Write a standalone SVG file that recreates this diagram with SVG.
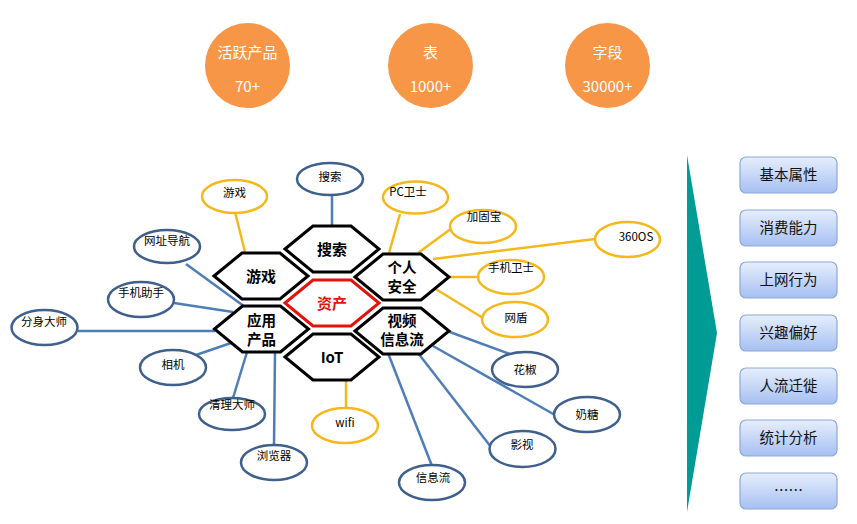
<svg xmlns="http://www.w3.org/2000/svg" width="857" height="524" viewBox="0 0 857 524">
<style>
.t{font-family:"Noto Sans CJK SC","Microsoft YaHei",sans-serif;text-anchor:middle}
.stat{fill:#f79646}
.stxt{fill:#fff;font-size:15px}
.hex{fill:#fff;stroke:#000;stroke-width:3;stroke-linejoin:miter}
.hexc{fill:#fff;stroke:#e3120b;stroke-width:3}
.htxt{font-size:15px;font-weight:bold;fill:#000}
.h2{font-size:14.5px;font-weight:bold;fill:#000}
.ey{fill:#fff;stroke:#f5b81c;stroke-width:2.5}
.eb{fill:#fff;stroke:#3f5f8c;stroke-width:2.5}
.etxt{font-size:11.5px;fill:#000}
.ly{stroke:#f5b81c;stroke-width:2.5;fill:none}
.lb{stroke:#4f7db8;stroke-width:2.5;fill:none}
.box{fill:url(#bg);stroke:#8ea9d6;stroke-width:1.2}
.btxt{font-size:14.5px;fill:#111}
</style>
<defs>
<linearGradient id="bg" x1="0" y1="0" x2="0" y2="1">
<stop offset="0" stop-color="#e6eefd"/>
<stop offset="1" stop-color="#a6c0f2"/>
</linearGradient>
<polygon id="hx" points="-47,0 -19,-23 19,-23 47,0 19,23 -19,23"/>
</defs>
<rect width="857" height="524" fill="#fff"/>

<g id="stat1"><circle class="stat" cx="247.5" cy="65.5" r="42.5"/><text class="t stxt" x="247.5" y="58">活跃产品</text><text class="t stxt" x="247.5" y="92">70+</text></g>
<g id="stat2"><circle class="stat" cx="430.5" cy="65.5" r="42.5"/><text class="t stxt" x="430.5" y="58">表</text><text class="t stxt" x="430.5" y="92">1000+</text></g>
<g id="stat3"><circle class="stat" cx="607.5" cy="65.5" r="42.5"/><text class="t stxt" x="607.5" y="58">字段</text><text class="t stxt" x="607.5" y="92">30000+</text></g>

<g id="connectors">
<line class="ly" x1="235" y1="212" x2="245" y2="252"/>
<line class="ly" x1="400" y1="214" x2="389" y2="253"/>
<line class="ly" x1="452" y1="228" x2="418" y2="253"/>
<line class="ly" x1="595" y1="239" x2="433" y2="259"/>
<line class="ly" x1="448" y1="277" x2="478" y2="277"/>
<line class="ly" x1="434" y1="288" x2="483" y2="318"/>
<line class="ly" x1="346" y1="380" x2="346" y2="408"/>
<line class="lb" x1="332" y1="195" x2="332" y2="226"/>
<line class="lb" x1="186" y1="264" x2="245" y2="307"/>
<line class="lb" x1="174" y1="303" x2="233" y2="312"/>
<line class="lb" x1="78" y1="331" x2="215" y2="331"/>
<line class="lb" x1="196" y1="355" x2="231" y2="343"/>
<line class="lb" x1="233" y1="398" x2="247" y2="352"/>
<line class="lb" x1="274" y1="445" x2="275" y2="352"/>
<line class="lb" x1="447" y1="331" x2="510" y2="354"/>
<line class="lb" x1="433" y1="346" x2="555" y2="415"/>
<line class="lb" x1="418" y1="353" x2="491" y2="447"/>
<line class="lb" x1="388" y1="353" x2="432" y2="466"/>
</g>

<g id="hex-search"><use href="#hx" class="hex" x="332" y="249"/><text class="t htxt" x="332" y="254.5">搜索</text></g>
<g id="hex-game"><use href="#hx" class="hex" x="261" y="276"/><text class="t htxt" x="261" y="281.5">游戏</text></g>
<g id="hex-security"><use href="#hx" class="hex" x="402" y="277"/><text class="t h2" x="402" y="273">个人</text><text class="t h2" x="402" y="292">安全</text></g>
<g id="hex-asset"><use href="#hx" class="hexc" x="332" y="303"/><text class="t htxt" x="332" y="308.5" style="fill:#e3120b">资产</text></g>
<g id="hex-app"><use href="#hx" class="hex" x="261.5" y="329"/><text class="t h2" x="261.5" y="325.5">应用</text><text class="t h2" x="261.5" y="344.5">产品</text></g>
<g id="hex-video"><use href="#hx" class="hex" x="402" y="331"/><text class="t h2" x="402" y="325.5">视频</text><text class="t h2" x="402" y="344.5">信息流</text></g>
<g id="hex-iot"><use href="#hx" class="hex" x="332" y="357"/><text class="t htxt" x="332" y="362.5">IoT</text></g>

<g id="e-game"><ellipse class="ey" cx="234.5" cy="196.5" rx="32.5" ry="16.5"/><text class="t etxt" x="234.5" y="197">游戏</text></g>
<g id="e-pc"><ellipse class="ey" cx="415.5" cy="197.5" rx="32.5" ry="16"/><text class="t etxt" x="408" y="196">PC卫士</text></g>
<g id="e-jgb"><ellipse class="ey" cx="483" cy="226.5" rx="33" ry="16.5"/><text class="t etxt" x="484" y="221">加固宝</text></g>
<g id="e-360os"><ellipse class="ey" cx="627.5" cy="239.5" rx="32.5" ry="17.5"/><text class="t etxt" x="636" y="241">360OS</text></g>
<g id="e-phone"><ellipse class="ey" cx="511" cy="277" rx="33" ry="17"/><text class="t etxt" x="511" y="272">手机卫士</text></g>
<g id="e-wd"><ellipse class="ey" cx="515" cy="319.5" rx="33" ry="17.5"/><text class="t etxt" x="516" y="322">网盾</text></g>
<g id="e-wifi"><ellipse class="ey" cx="345" cy="425.5" rx="33" ry="17.5"/><text class="t etxt" x="345" y="427">wifi</text></g>

<g id="e-search"><ellipse class="eb" cx="330" cy="179" rx="33" ry="16"/><text class="t etxt" x="330" y="181">搜索</text></g>
<g id="e-nav"><ellipse class="eb" cx="167" cy="246.5" rx="33" ry="16.5"/><text class="t etxt" x="167" y="245">网址导航</text></g>
<g id="e-assist"><ellipse class="eb" cx="141" cy="299.5" rx="33" ry="17.5"/><text class="t etxt" x="141" y="297">手机助手</text></g>
<g id="e-clone"><ellipse class="eb" cx="44.5" cy="327.5" rx="33" ry="17.5"/><text class="t etxt" x="44" y="326">分身大师</text></g>
<g id="e-camera"><ellipse class="eb" cx="173" cy="367.5" rx="33" ry="17.5"/><text class="t etxt" x="173" y="369">相机</text></g>
<g id="e-clean"><ellipse class="eb" cx="232" cy="414" rx="33" ry="16"/><text class="t etxt" x="232" y="409">清理大师</text></g>
<g id="e-browser"><ellipse class="eb" cx="274" cy="462.5" rx="33" ry="17.5"/><text class="t etxt" x="274" y="460">浏览器</text></g>
<g id="e-huajiao"><ellipse class="eb" cx="525" cy="369.5" rx="33" ry="17.5"/><text class="t etxt" x="525" y="374">花椒</text></g>
<g id="e-naitang"><ellipse class="eb" cx="587" cy="414.5" rx="33" ry="17.5"/><text class="t etxt" x="587" y="419">奶糖</text></g>
<g id="e-yingshi"><ellipse class="eb" cx="522.5" cy="449" rx="33" ry="18"/><text class="t etxt" x="522" y="449">影视</text></g>
<g id="e-feed"><ellipse class="eb" cx="432" cy="482.5" rx="33" ry="17.5"/><text class="t etxt" x="433" y="482">信息流</text></g>

<g id="arrow"><polygon points="687,155 717,333 687,512" fill="#009b95"/></g>

<g id="b1"><rect class="box" x="740" y="157" width="97" height="36" rx="6"/><text class="t btxt" x="788.5" y="180">基本属性</text></g>
<g id="b2"><rect class="box" x="740" y="210" width="97" height="36" rx="6"/><text class="t btxt" x="788.5" y="233">消费能力</text></g>
<g id="b3"><rect class="box" x="740" y="262" width="97" height="36" rx="6"/><text class="t btxt" x="788.5" y="285">上网行为</text></g>
<g id="b4"><rect class="box" x="740" y="315" width="97" height="36" rx="6"/><text class="t btxt" x="788.5" y="338">兴趣偏好</text></g>
<g id="b5"><rect class="box" x="740" y="368" width="97" height="36" rx="6"/><text class="t btxt" x="788.5" y="391">人流迁徙</text></g>
<g id="b6"><rect class="box" x="740" y="420" width="97" height="36" rx="6"/><text class="t btxt" x="788.5" y="443">统计分析</text></g>
<g id="b7"><rect class="box" x="740" y="473" width="97" height="36" rx="6"/><text class="t btxt" x="788.5" y="496">……</text></g>
</svg>
